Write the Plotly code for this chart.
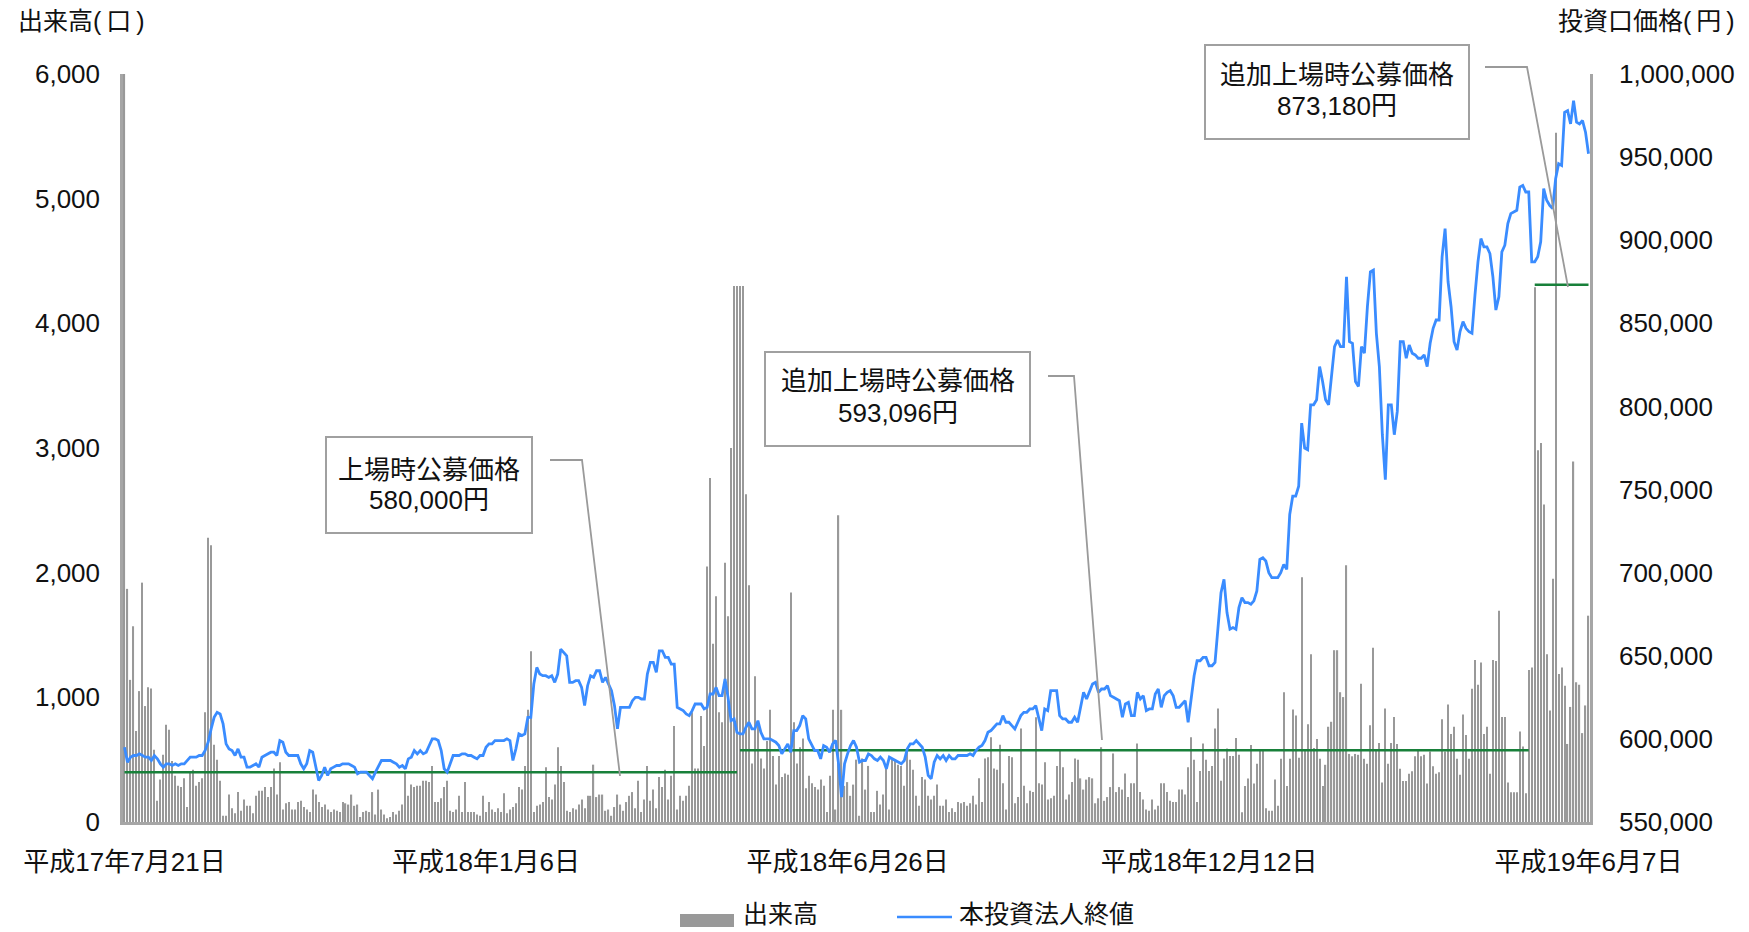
import pandas as pd
import plotly.graph_objects as go

# ---------------- data ----------------
dates = pd.bdate_range("2005-07-21", "2007-06-07").strftime("%Y-%m-%d").tolist()

volume = [
    6000,
    1870, 1140, 1570, 730, 1050, 1920, 930, 1080, 1070, 580,
    170, 340, 540, 780, 740, 490, 370, 290, 280, 350,
    120, 400, 420, 290, 320, 350, 880, 2280, 2220, 620,
    500, 330, 50, 50, 220, 110, 70, 240, 90, 180,
    130, 130, 70, 210, 250, 250, 280, 200, 280, 430,
    220, 480, 100, 150, 160, 100, 100, 160, 170, 120,
    100, 80, 260, 220, 160, 120, 140, 100, 80, 100,
    90, 80, 160, 150, 140, 220, 130, 140, 40, 80,
    90, 80, 240, 60, 260, 100, 60, 30, 40, 80,
    60, 90, 140, 400, 210, 300, 280, 290, 290, 330,
    330, 320, 450, 160, 160, 190, 280, 330, 90, 80,
    100, 210, 80, 320, 80, 80, 80, 60, 50, 210,
    80, 160,
    100,
    80, 110, 80, 230, 70, 100, 120, 150, 280, 260,
    450, 900, 1370, 80, 130, 140, 160, 440, 200, 180,
    300, 600, 450, 320, 90, 80, 110, 100, 140, 180,
    110, 210, 210, 460, 200, 220, 220, 90, 100, 50,
    120, 220, 140, 90, 160, 210, 240, 110, 330, 80, 180,
    450, 170, 260, 110, 360, 280, 420, 180, 370, 770,
    100, 210, 170, 210, 290, 880, 430, 430, 850, 610,
    2050, 2760, 1430, 1810, 880, 800, 2080, 1650, 3000, 4300,
    4300, 4300, 4300, 2630, 1900, 470, 1170, 780, 510, 430,
    650, 900, 530, 300, 530, 360, 390, 380, 1840, 800,
    470, 600, 670, 270,
    370, 310, 280, 260, 340, 290, 80, 370, 900, 100,
    2460, 900, 290, 320, 210, 300, 500, 50, 510,
    260, 450, 80, 80, 250, 140, 220, 440, 100, 500,
    500, 460, 450, 290, 590, 500, 420, 210, 130, 360,
    340, 210, 180, 210, 300, 130, 130, 180, 80, 110,
    80, 160, 150, 160, 130, 150, 210, 140, 350, 160,
    510, 520, 680, 430, 420, 620, 310, 100, 530, 520,
    150, 200, 750, 290, 150, 250, 240, 840, 310, 300, 480,
    180, 190, 210, 450, 580, 440, 180, 220, 320, 510,
    500, 350, 260, 340, 360, 350, 150, 190, 600, 170,
    200, 280, 550, 240, 280, 260, 390, 200, 310, 310,
    630, 240, 180, 100, 90, 180, 100, 130, 310, 310,
    240, 170, 160, 160, 260, 260, 220, 440, 680, 500,
    160, 410, 630, 500, 410, 450, 750, 910, 330, 510,
    590, 530, 530,
    673, 539, 79, 289, 348, 618, 309, 467, 578, 578,
    111, 91, 91, 341, 131, 507, 1041, 289, 507, 903,
    855, 515, 1964, 586, 784, 1346, 594, 665, 507, 289,
    459, 764, 804, 1378, 1378, 1041, 1002, 2059, 546, 527,
    546, 539, 1109, 507, 467, 776, 1398, 578, 634, 317,
    911, 467, 634, 843, 626, 428, 329, 329, 388, 408,
    527, 578, 527, 539, 309, 566, 447, 388, 400, 824, 566,
    942, 705, 764, 507, 380, 863, 697, 507, 1069, 1299,
    1101, 1279, 705, 764, 388, 1299, 1291, 1695, 843, 843,
    317, 238, 238, 238, 725, 606, 230, 1220, 1239, 4289,
    2982, 3041, 2546, 1346, 895, 1952, 5528, 1188, 1239, 1093,
    626, 923, 2891, 1121, 1101, 713, 935, 1655,
]

# closing price in thousand yen
close_k = [
    595, 586, 589, 590, 590, 591, 590, 589, 589,
    587, 590, 588, 585, 583, 585, 585, 584, 585, 584, 585, 585, 587, 589, 589, 589,
    590, 590, 593, 598, 606, 613, 616, 615, 609, 597, 594, 593, 590, 594, 589, 589,
    583, 583, 584, 585, 583, 589, 590, 591, 592, 592, 590, 599, 598, 592, 590, 590,
    590, 590, 585, 582, 585, 593, 592, 583, 575, 578, 583, 578, 582, 583, 584, 584,
    585, 585, 585, 584, 583, 579, 580, 580, 580, 578, 576, 580, 584, 587, 587, 587,
    587, 586, 585, 583, 584, 582, 588, 589, 593, 591, 593, 591, 592, 596, 600, 600,
    599, 593, 582, 580, 585, 590, 590, 590, 591, 591, 590, 590, 589, 588, 590, 590,
    595, 597, 597, 599, 599, 599, 599, 600, 599, 587, 594, 603, 602, 603, 613, 613,
    633, 643, 639, 638, 638, 637, 638, 634, 639, 654, 652, 650, 634, 634, 635, 635,
    631, 620, 632, 638, 637, 641, 641, 634, 637, 633, 629, 620, 606, 619, 619, 619,
    619, 623, 625, 625, 624, 624, 639, 646, 646, 640, 653, 653, 649, 649, 645, 645,
    619, 618, 617, 615, 614, 617, 621, 621, 621, 618, 619, 627, 627, 631, 626, 626,
    636, 625, 611, 612, 604, 603, 603, 607, 610, 606, 606, 611, 604, 600, 600, 600,
    599, 598, 596, 591, 594, 597, 592, 605, 605, 608, 614, 612, 600, 596, 593, 593,
    588, 596, 595, 592, 597, 599, 585, 565, 585, 591, 596, 599, 595, 586, 587, 587,
    591, 590, 588, 587, 589, 587, 582, 589, 588, 587, 586, 585, 587, 594, 597, 597,
    599, 597, 595, 589, 578, 576, 586, 590, 588, 590, 587, 590, 588, 588, 590, 590,
    590, 590, 591, 590, 593, 595, 596, 599, 604, 605, 607, 609, 609, 614, 610, 610,
    608, 606, 610, 614, 616, 616, 618, 618, 620, 612, 605, 618, 617, 629, 629, 629,
    614, 612, 612, 610, 610, 613, 610, 618, 628, 624, 628, 633, 634, 628, 630, 630,
    632, 626, 625, 624, 623, 613, 621, 622, 614, 614, 628, 624, 626, 617, 618, 618,
    627, 630, 619, 626, 628, 629, 626, 619, 619, 621, 623, 610, 623, 638, 647, 647,
    649, 649, 644, 644, 646, 670, 688, 696, 676, 666, 667, 666, 679, 685, 682, 682,
    681, 683, 689, 708, 709, 707, 700, 697, 697, 697, 700, 705, 702, 735, 746, 746,
    752, 790, 775, 774, 801, 801, 804, 824, 815, 804, 801, 821, 836, 840, 836, 836,
    878, 839, 838, 815, 812, 836, 832, 860, 881, 882, 844, 824, 783, 756, 801, 801,
    783, 797, 839, 839, 829, 837, 832, 831, 829, 829, 831, 824, 838, 847, 852, 852,
    890, 907, 875, 860, 839, 834, 845, 851, 847, 845, 844, 867, 887, 901, 896, 896,
    892, 878, 858, 866, 893, 897, 910, 916, 917, 918, 932, 933, 929, 929, 887, 887,
    890, 899, 931, 924, 921, 919, 937, 946, 945, 977, 978, 970, 984, 971, 970, 972, 965, 952,
]
close_price = [v * 1000 for v in close_k]

tick_dates = ["2005-07-21", "2006-01-06", "2006-06-26", "2006-12-12", "2007-06-07"]
tick_labels = ["平成17年7月21日", "平成18年1月6日", "平成18年6月26日", "平成18年12月12日", "平成19年6月7日"]

vol_ticks = [0, 1000, 2000, 3000, 4000, 5000, 6000]
price_ticks = [550000, 600000, 650000, 700000, 750000, 800000, 850000, 900000, 950000, 1000000]

offer_titles = ["上場時公募価格", "追加上場時公募価格", "追加上場時公募価格"]
offer_prices = [580000, 593096, 873180]
offer_start = ["2005-07-21", "2006-05-05", "2007-05-14"]
offer_end = ["2006-05-04", "2007-05-10", "2007-06-07"]

assert len(dates) == len(volume) == len(close_price), (len(dates), len(volume), len(close_price))

# ---------------- style ----------------
# page body has an 8px margin, so the figure is made 8px smaller and shifted
OFF = 8
W, H = 1749 - OFF, 932 - OFF
L, R, T, B = 123, 1590, 74, 822          # plot area in screen pixels
FONT = "Liberation Sans, Arial, Noto Sans CJK JP, sans-serif"
TXT_C = "#111111"
BAR_C = "#999999"
LINE_C = "#3a8cff"
GREEN_C = "#18803a"
AXIS_C = "#a6a6a6"
BOX_C = "#a0a0a0"


def px(x):
    return (x - L) / (R - L)


def py(y):
    return (B - y) / (B - T)


fig = go.Figure()
fig.add_trace(go.Bar(x=dates, y=volume, name="出来高", marker=dict(color=BAR_C, line=dict(width=0)),
                     yaxis="y", showlegend=False))
for name, p, s, e in zip(offer_titles, offer_prices, offer_start, offer_end):
    fig.add_trace(go.Scatter(x=[s, e], y=[p, p], mode="lines", name=name,
                             line=dict(color=GREEN_C, width=2.5), yaxis="y2", showlegend=False))
fig.add_trace(go.Scatter(x=dates, y=close_price, mode="lines", name="本投資法人終値",
                         line=dict(color=LINE_C, width=2.8), yaxis="y2", showlegend=False))

shapes = []
annotations = []

# callout boxes
boxes = [
    ((326, 437, 532, 533), (429, 470, 500), offer_titles[0], "580,000円", [(550, 460), (582, 460), (620, 776)]),
    ((765, 352, 1030, 446), (897.5, 381, 413), offer_titles[1], "593,096円", [(1048, 376), (1074, 376), (1102, 740)]),
    ((1205, 45, 1469, 139), (1337, 75, 106), offer_titles[2], "873,180円", [(1485, 67), (1527, 67), (1568, 287)]),
]
for (x0, y0, x1, y1), (tx, ty1, ty2), t1, t2, pts in boxes:
    shapes.append(dict(type="rect", xref="paper", yref="paper", x0=px(x0), x1=px(x1), y0=py(y1), y1=py(y0),
                       line=dict(color=BOX_C, width=2), fillcolor="white", layer="above"))
    path = "M " + " L ".join(f"{px(a):.5f},{py(b):.5f}" for a, b in pts)
    shapes.append(dict(type="path", xref="paper", yref="paper", path=path,
                       line=dict(color="#9a9a9a", width=1.8), layer="above"))
    for txt, ty in ((t1, ty1), (t2, ty2)):
        annotations.append(dict(x=px(tx), y=py(ty), xref="paper", yref="paper", text=txt, showarrow=False,
                                xanchor="center", yanchor="middle", font=dict(size=26, color=TXT_C, family=FONT)))

# axis titles
annotations.append(dict(x=px(16), y=py(21), xref="paper", yref="paper", text="出来高(\u2009口\u2009)",
                        showarrow=False, xanchor="left", yanchor="middle",
                        font=dict(size=25, color=TXT_C, family=FONT)))
annotations.append(dict(x=px(1737), y=py(21), xref="paper", yref="paper", text="投資口価格(\u2009円\u2009)",
                        showarrow=False, xanchor="right", yanchor="middle",
                        font=dict(size=25, color=TXT_C, family=FONT)))

# custom legend
shapes.append(dict(type="rect", xref="paper", yref="paper", x0=px(680), x1=px(734), y0=py(927), y1=py(914),
                   line=dict(width=0), fillcolor=BAR_C))
annotations.append(dict(x=px(741), y=py(914), xref="paper", yref="paper", text="出来高", showarrow=False,
                        xanchor="left", yanchor="middle", font=dict(size=25, color=TXT_C, family=FONT)))
shapes.append(dict(type="line", xref="paper", yref="paper", x0=px(897), x1=px(952), y0=py(917), y1=py(917),
                   line=dict(color=LINE_C, width=2.5)))
annotations.append(dict(x=px(957), y=py(914), xref="paper", yref="paper", text="本投資法人終値", showarrow=False,
                        xanchor="left", yanchor="middle", font=dict(size=25, color=TXT_C, family=FONT)))

fig.update_layout(
    width=W, height=H,
    margin=dict(l=L - OFF, r=W - (R - OFF), t=T - OFF, b=H - (B - OFF), pad=0),
    paper_bgcolor="white", plot_bgcolor="white",
    font=dict(family=FONT, size=26, color=TXT_C),
    bargap=0.6,
    showlegend=False,
    xaxis=dict(type="category", categoryorder="array", categoryarray=dates,
               range=[-0.5, len(dates) - 0.5],
               tickmode="array", tickvals=tick_dates, ticktext=tick_labels,
               tickfont=dict(size=26, family=FONT, color=TXT_C),
               showline=True, linecolor=AXIS_C, linewidth=2.5, ticks="", showgrid=False,
               zeroline=False, ticklabelstandoff=15),
    yaxis=dict(range=[0, 6000], tickmode="array", tickvals=vol_ticks, tickformat=",",
               tickfont=dict(size=26, family=FONT, color=TXT_C),
               showline=True, linecolor=AXIS_C, linewidth=2.5, ticks="", showgrid=False,
               zeroline=False, ticklabelstandoff=15),
    yaxis2=dict(range=[550000, 1000000], overlaying="y", side="right", tickmode="array",
                tickvals=price_ticks, tickformat=",",
                tickfont=dict(size=26, family=FONT, color=TXT_C),
                showline=True, linecolor=AXIS_C, linewidth=2.5, ticks="", showgrid=False,
                zeroline=False, ticklabelstandoff=21),
    shapes=shapes,
    annotations=annotations,
)

fig.write_html("out.html")
